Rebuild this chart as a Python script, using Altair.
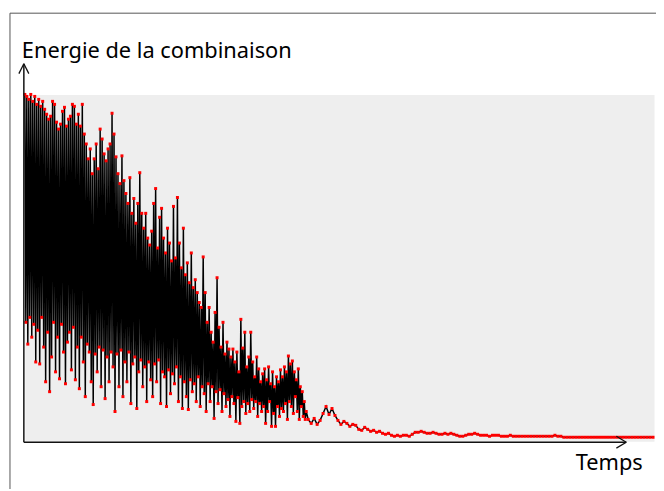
import altair as alt
import pandas as pd

# Energy of the combination, noisy phase: one value per time step
energy_noisy = [
    350, 120, 348, 98, 345, 125, 350, 105, 343, 118,
    348, 80, 340, 112, 345, 78, 338, 125, 343, 95,
    335, 60, 330, 110, 325, 50, 328, 85, 343, 120,
    340, 70, 322, 105, 315, 63, 320, 118, 333, 90,
    337, 58, 318, 100, 325, 110, 328, 72, 340, 115,
    338, 62, 320, 95, 330, 53, 318, 105, 340, 80,
    310, 45, 300, 98, 285, 90, 295, 60, 270, 37,
    285, 88, 300, 70, 275, 95, 315, 55, 305, 92,
    290, 43, 283, 85, 295, 60, 300, 90, 331, 75,
    310, 30, 287, 88, 270, 55, 260, 92, 288, 45,
    263, 80, 250, 60, 240, 90, 266, 38, 230, 78,
    245, 85, 220, 33, 240, 70, 271, 82, 230, 55,
    215, 75, 230, 40, 205, 80, 198, 62, 212, 45,
    240, 78, 255, 60, 195, 82, 226, 38, 235, 70,
    205, 65, 190, 35, 215, 72, 200, 48, 182, 68,
    237, 58, 185, 75, 246, 40, 200, 65, 175, 33,
    215, 60, 168, 45, 180, 32, 160, 62, 190, 50,
    155, 58, 163, 40, 150, 65, 140, 35, 135, 55,
    186, 48, 150, 30, 120, 58, 135, 40, 110, 55,
    100, 23, 130, 50, 165, 38, 115, 52, 95, 30,
    120, 48, 88, 35, 100, 42, 93, 25, 85, 45,
    93, 38, 80, 20, 90, 44, 70, 18, 123, 35,
    94, 40, 110, 28, 75, 38, 85, 30, 110, 42,
    80, 33, 65, 40, 85, 25, 73, 38, 60, 30,
    68, 35, 73, 18, 62, 30, 75, 40, 58, 15,
    70, 28, 55, 15, 65, 35, 60, 25, 72, 33,
    65, 30, 75, 38, 70, 22, 86, 40, 78, 35,
    81, 28, 70, 45, 62, 30, 73, 22, 55, 35,
    50, 25, 40, 22, 30,
]

# Energy in the cooled phase: one value every 3 time steps
energy_tail = [
    22, 18, 23, 17, 21, 28, 35, 27, 33, 26,
    21, 17, 20, 18, 15, 17, 16, 12, 11, 14,
    12, 10, 11, 9, 10, 8, 7, 8, 6, 5,
    6, 5, 6, 6, 5, 7, 9, 9, 10, 9,
    8, 8, 9, 8, 7, 7, 8, 7, 8, 7,
    6, 5, 5, 6, 7, 7, 8, 7, 6, 6,
    6, 5, 6, 6, 6, 5, 5, 5, 6, 5,
    5, 5, 5, 5, 5, 5, 5, 5, 5, 5,
    5, 5, 5, 6, 5, 5,
    4, 4, 4, 4, 4, 4, 4, 4, 4, 4,
    4, 4, 4, 4, 4, 4, 4, 4, 4, 4,
    4, 4, 4, 4, 4, 4, 4, 4, 4, 4, 4,
]
tail_step = 3

title_text = "Energie de la combinaison"
x_label = "Temps"

t_noisy = list(range(len(energy_noisy)))
t_tail = [len(energy_noisy) + 1 + tail_step * i for i in range(len(energy_tail))]
df = pd.DataFrame({"t": t_noisy + t_tail, "e": energy_noisy + energy_tail})

W, H = 635, 350
xs = alt.Scale(domain=[0, 635], nice=False)
ys = alt.Scale(domain=[0, 350], nice=False)

base = alt.Chart(df)
line = base.mark_line(color="black", strokeWidth=1.5).encode(
    x=alt.X("t:Q", scale=xs, axis=None),
    y=alt.Y("e:Q", scale=ys, axis=None),
)
pts = base.mark_square(color="#ff0000", size=9, opacity=1).encode(
    x=alt.X("t:Q", scale=xs, axis=None),
    y=alt.Y("e:Q", scale=ys, axis=None),
)

one = pd.DataFrame({"k": [0]})


def seg(x1, y1, x2, y2, color="black", sw=1.0):
    return alt.Chart(one).mark_rule(color=color, strokeWidth=sw).encode(
        x=alt.value(x1), y=alt.value(y1), x2=alt.value(x2), y2=alt.value(y2)
    )


decor = [
    # frame
    seg(-15, -82, 639, -82, "#555555", 1),
    seg(-15, -82, -15, 400, "#555555", 1),
    # y axis with arrow
    seg(-1, -31, -1, 351, "#111111", 1.5),
    seg(-1, -31, -6, -21, "#111111", 1.3),
    seg(-1, -31, 4, -21, "#111111", 1.3),
    # x axis with arrow
    seg(-1, 351, 607, 351, "#111111", 1.5),
    seg(607, 351, 597, 345, "#111111", 1.3),
    seg(607, 351, 597, 357, "#111111", 1.3),
]

title = alt.Chart(one).mark_text(
    text=title_text, align="left", baseline="alphabetic",
    font="Noto Sans", fontSize=22, color="black"
).encode(x=alt.value(-3), y=alt.value(-37))

xlab = alt.Chart(one).mark_text(
    text=x_label, align="left", baseline="alphabetic",
    font="Noto Sans", fontSize=22, color="black"
).encode(x=alt.value(556), y=alt.value(379))

chart = alt.layer(line, pts, *decor, title, xlab).properties(
    width=W, height=H,
    padding={"left": 17, "top": 85, "right": 2, "bottom": 46},
    autosize=alt.AutoSizeParams(type="none"),
    background="white",
).configure_view(fill="#EEEEEE", stroke="transparent")

chart.save("out.html", embed_options={"renderer": "svg", "actions": False})
